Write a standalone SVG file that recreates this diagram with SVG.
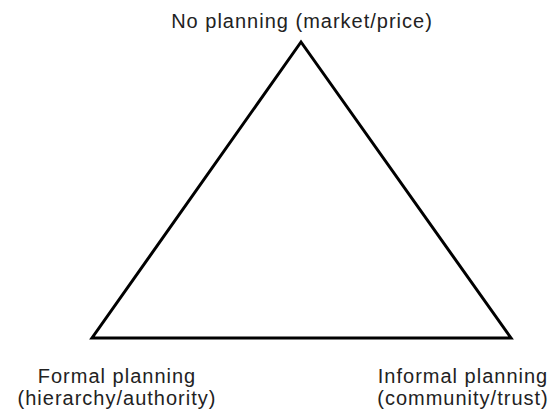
<svg xmlns="http://www.w3.org/2000/svg" width="555" height="410" viewBox="0 0 555 410">
<style>
text{font-family:"Liberation Sans",Arial,sans-serif;font-size:20px;letter-spacing:1px;fill:#222;text-anchor:middle}
.edge{fill:none;stroke:#000;stroke-width:3;stroke-linejoin:miter}
</style>
<rect width="555" height="410" fill="#fff"/>
<g id="connectors">
<polygon class="edge" points="301,42 92,338 511,338"/>
</g>
<g id="top"><text x="302" y="28">No planning (market/price)</text></g>
<g id="left"><text x="117" y="383">Formal planning</text><text x="117" y="405">(hierarchy/authority)</text></g>
<g id="right"><text x="463" y="383">Informal planning</text><text x="463" y="405">(community/trust)</text></g>
</svg>
